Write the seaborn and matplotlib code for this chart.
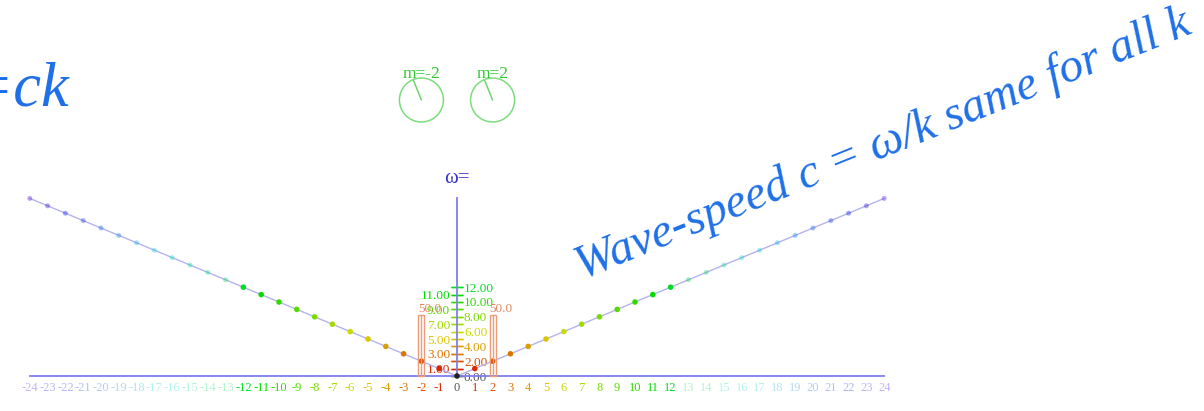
import colorsys

import matplotlib
matplotlib.use("Agg")
import matplotlib.pyplot as plt
from matplotlib.patches import Circle
import numpy as np
import pandas as pd
import seaborn as sns

# Dispersion relation omega = c*k with c = 1, sampled at integer wavenumbers
k_values = [-24, -23, -22, -21, -20, -19, -18, -17, -16, -15, -14, -13,
            -12, -11, -10, -9, -8, -7, -6, -5, -4, -3, -2, -1, 0,
            1, 2, 3, 4, 5, 6, 7, 8, 9, 10, 11, 12,
            13, 14, 15, 16, 17, 18, 19, 20, 21, 22, 23, 24]
omega_values = [24, 23, 22, 21, 20, 19, 18, 17, 16, 15, 14, 13,
                12, 11, 10, 9, 8, 7, 6, 5, 4, 3, 2, 1, 0,
                1, 2, 3, 4, 5, 6, 7, 8, 9, 10, 11, 12,
                13, 14, 15, 16, 17, 18, 19, 20, 21, 22, 23, 24]
omega_ticks = [0, 1, 2, 3, 4, 5, 6, 7, 8, 9, 10, 11, 12]

# Excited modes: wavenumber, amplitude and phase of each
mode_k = [-2, 2]
mode_amp = [50.0, 50.0]
mode_labels = ["m=-2", "m=2"]
mode_phase_deg = [112, 112]

W, H, DPI = 1204, 411, 100
ACTIVE = 12          # modes beyond this |k| are drawn faded
AXIS_BLUE = "#7f7fee"
TEXT_BLUE = "#1f6fe8"
BAR_ORANGE = "#eb9c78"


def mode_color(n):
    n = abs(n)
    if n == 0:
        return (0.13, 0.13, 0.13)
    return colorsys.hsv_to_rgb((0.03 * n) % 1.0, 1.0, 0.86)


sns.set_style("white")
plt.rcParams["font.family"] = ["Liberation Serif", "DejaVu Serif"]

fig = plt.figure(figsize=(W / DPI, H / DPI), dpi=DPI)
ax = fig.add_axes([0, 0, 1, 1])
ax.set_facecolor("none")

px_per_k, px_per_w = 17.8, 7.4
x0_px, y0_px = 457, 376
ax.set_xlim(-x0_px / px_per_k, (W - x0_px) / px_per_k)
ax.set_ylim(-(H - y0_px) / px_per_w, y0_px / px_per_w)

# Mode amplitudes live on their own vertical scale
amp_per_omega = 50.0 / 8.24
ax2 = ax.twinx()
ax2.set_position([0, 0, 1, 1])
lo, hi = ax.get_ylim()
ax2.set_ylim(lo * amp_per_omega, hi * amp_per_omega)
ax2.axis("off")

df = pd.DataFrame({"k": k_values, "omega": omega_values})
df["active"] = df["k"].abs() <= ACTIVE
palette = {k: mode_color(k) for k in k_values}

sns.lineplot(data=df, x="k", y="omega", ax=ax, color="#b4b4ee", lw=1.0,
             sort=True, estimator=None, zorder=2)
sns.scatterplot(data=df[df["active"]], x="k", y="omega", hue="k",
                palette=palette, s=16, linewidth=0, legend=False, ax=ax,
                zorder=3)
sns.scatterplot(data=df[~df["active"]], x="k", y="omega", hue="k",
                palette=palette, s=13, linewidth=0, alpha=0.35, legend=False,
                ax=ax, zorder=3)
ax.set_xlabel("")
ax.set_ylabel("")

# Axes through the origin
for side in ("left", "right", "bottom"):
    ax.spines[side].set_position(("data", 0))
ax.spines["top"].set_visible(False)
ax.spines["right"].set_color("none")
ax.spines["bottom"].set_bounds(-24, 24)
ax.spines["left"].set_bounds(0, 24)
for side in ("left", "bottom"):
    ax.spines[side].set_color(AXIS_BLUE)
    ax.spines[side].set_linewidth(1.3)

# k tick labels along the bottom
ax.set_xticks(k_values)
ax.set_xticklabels([str(k) for k in k_values])
ax.tick_params(axis="x", length=0, pad=4.5, labelsize=9)
for lab, k in zip(ax.get_xticklabels(), k_values):
    lab.set_color(mode_color(k) if k != 0 else "#555555")
    if abs(k) > ACTIVE:
        lab.set_alpha(0.3)

# omega ticks: odd values labelled on the left, even on the right
ax.set_yticks(omega_ticks)
ax.set_yticklabels([f"{v:.2f}" for v in omega_ticks])
ax.yaxis.set_ticks_position("both")
ax.tick_params(axis="y", direction="inout", length=8, width=1, pad=1,
               labelsize=9.5, left=True, right=True,
               labelleft=True, labelright=True)
for tick, v in zip(ax.yaxis.get_major_ticks(), omega_ticks):
    c = mode_color(v) if v != 0 else "#555555"
    for line in (tick.tick1line, tick.tick2line):
        line.set_color(c)
        line.set_markeredgecolor(c)
    tick.label1.set_color(c)
    tick.label2.set_color(c)
    tick.label1.set_visible(v % 2 == 1)
    tick.label2.set_visible(v % 2 == 0)

ax.annotate("ω=", xy=(0, 24), xytext=(0, 14), textcoords="offset points",
            ha="center", va="center", fontsize=15, color="#3434c8")

bar_w = 0.34
ax2.bar(mode_k, mode_amp, width=bar_w, fill=False, edgecolor=BAR_ORANGE,
        linewidth=1.0)
ax2.vlines(mode_k, 0, mode_amp, color=BAR_ORANGE, linewidth=1.0)
for k, a in zip(mode_k, mode_amp):
    ax2.annotate(f"{a:.1f}", xy=(k - bar_w / 2, a), xytext=(0, 4),
                 textcoords="offset points", ha="left", va="center",
                 fontsize=9.5, color="#e4875e")

# Phase dials above each excited mode
r_px = 22
for k, lab, ph in zip(mode_k, mode_labels, mode_phase_deg):
    cx, _ = ax.transData.transform((k, 0))
    cy = H - 100
    dax = fig.add_axes([(cx - 25) / W, (cy - 25) / H, 50 / W, 50 / H])
    dax.set_xlim(-25, 25)
    dax.set_ylim(-25, 25)
    dax.axis("off")
    dax.add_patch(Circle((0, 0), r_px, fill=False, edgecolor="#7ddc7d", lw=1.1))
    a = np.deg2rad(ph)
    dax.plot([0, 21 * np.cos(a)], [0, 21 * np.sin(a)], color="#6fd46f", lw=1.1)
    dax.text(0, 26, lab, ha="center", va="center", fontsize=12.5,
             color="#2fc82f", clip_on=False)

fig.text(70 / W, 1 - 105 / H, "ω=ck", ha="right", va="baseline",
         fontsize=45, style="italic", color=TEXT_BLUE)
fig.text(582 / W, 1 - 280 / H, "Wave-speed c = ω/k same for all k",
         rotation=22, rotation_mode="anchor", ha="left", va="baseline",
         fontsize=34.5, style="italic", color=TEXT_BLUE)

fig.savefig("out.png", dpi=DPI)
